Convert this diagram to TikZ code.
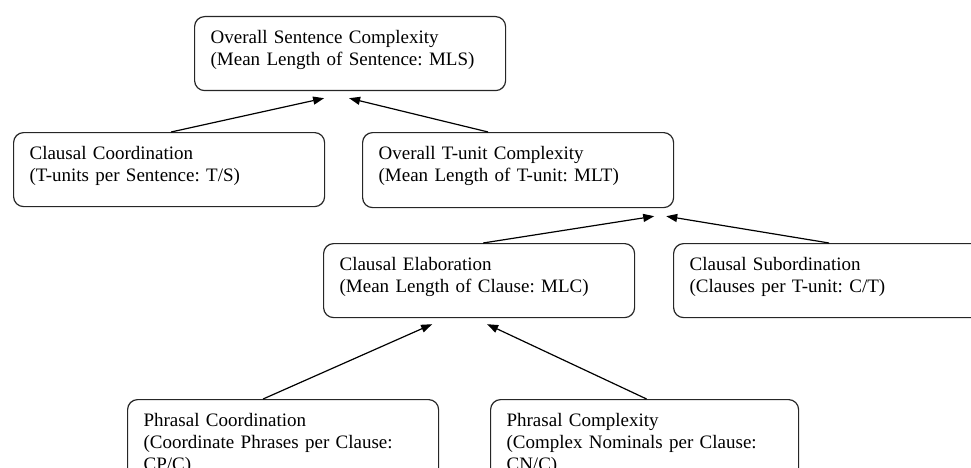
\documentclass[tikz,border=0pt]{standalone}
\usepackage{fontspec}
\setmainfont{Liberation Serif}
\usetikzlibrary{arrows.meta}
\frenchspacing

\begin{document}
\begin{tikzpicture}[x=1pt, y=-1pt,
        measure/.style={rectangle, draw=black!85, line width=1.2pt, rounded corners=10pt, anchor=north west, text width=279pt, align=left, inner xsep=16pt, inner ysep=0pt, text height=27pt, text depth=47pt, font=\fontsize{19}{22}\selectfont},
        link/.style={line width=1.2pt, -{Triangle[length=11pt,width=8pt]}}
    ]
        \useasboundingbox (0,0) rectangle (971,468);

        % top level
        \node[measure] (mls) at (194,16) {Overall Sentence Complexity\\(Mean Length of Sentence: MLS)};

        % second level
        \node[measure] (ts) at (13,132) {Clausal Coordination\\(T-units per Sentence: T/S)};
        \node[measure, text depth=48pt] (mlt) at (362,132) {Overall T-unit Complexity\\(Mean Length of T-unit: MLT)};

        % third level
        \node[measure] (mlc) at (323,243) {Clausal Elaboration\\(Mean Length of Clause: MLC)};
        \node[measure] (ct) at (673,243) {Clausal Subordination\\(Clauses per T-unit: C/T)};

        % bottom level
        \node[measure, text depth=70pt] (cpc) at (127,399) {Phrasal Coordination\\(Coordinate Phrases per Clause:\\CP/C)};
        \node[measure, text width=276pt, text depth=70pt] (cnc) at (490,399) {Phrasal Complexity\\(Complex Nominals per Clause:\\CN/C)};

        % arrow targets
        \coordinate (mlsinl) at ([xshift=-26pt,yshift=-7pt]mls.south);
        \coordinate (mlsinr) at ([xshift=-1pt,yshift=-7pt]mls.south);
        \coordinate (mltinl) at ([xshift=-20pt,yshift=-8pt]mlt.south east);
        \coordinate (mltinr) at ([xshift=-8pt,yshift=-8pt]mlt.south east);
        \coordinate (mlcinl) at ([xshift=-47pt,yshift=-6pt]mlc.south);
        \coordinate (mlcinr) at ([xshift=8pt,yshift=-6pt]mlc.south);

        \draw[link] ([xshift=2pt]ts.north) -- (mlsinl);
        \draw[link] ([xshift=-30pt]mlt.north) -- (mlsinr);
        \draw[link] ([xshift=4pt]mlc.north) -- (mltinl);
        \draw[link] (ct.north) -- (mltinr);
        \draw[link] ([xshift=-20pt]cpc.north) -- (mlcinl);
        \draw[link] ([xshift=2pt]cnc.north) -- (mlcinr);
    \end{tikzpicture}
\end{document}
